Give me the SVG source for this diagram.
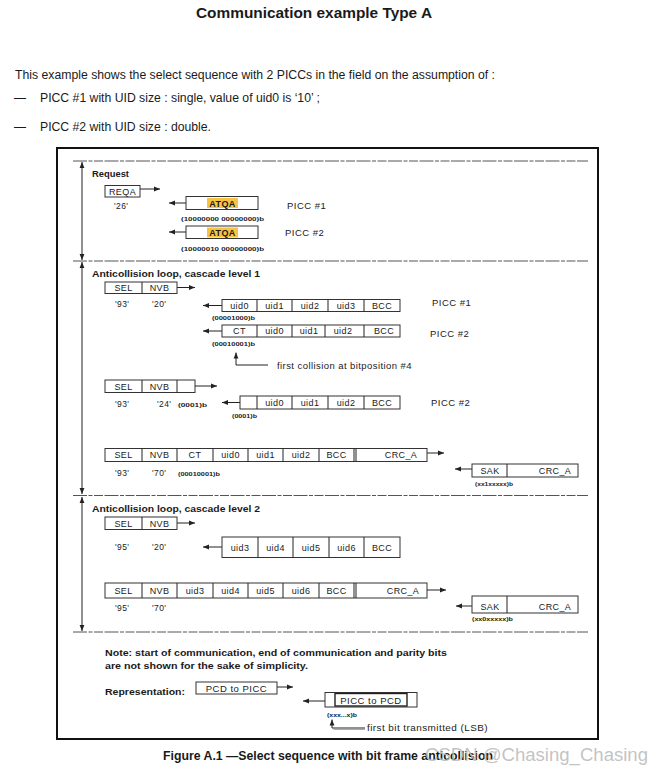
<svg xmlns="http://www.w3.org/2000/svg" width="663" height="773" viewBox="0 0 663 773">
<style>
  text { font-family: "Liberation Sans", Arial, sans-serif; fill: #1a1a1a; }
  .h { font-weight: bold; }
  .c { font-size: 9px; text-anchor: middle; letter-spacing: 0.4px; }
  .v { font-size: 8.5px; letter-spacing: 0.4px; }
  .s { font-size: 6px; font-weight: bold; }
  .p { font-size: 9.5px; letter-spacing: 0.5px; }
  .sec { font-size: 9.5px; font-weight: bold; }
  .box { fill: none; stroke: #333; stroke-width: 1; }
  .ln { fill: none; stroke: #222; stroke-width: 1; }
  .arr { fill: none; stroke: #222; stroke-width: 1; marker-end: url(#ah); }
  .dbl { fill: none; stroke: #222; stroke-width: 1; marker-start: url(#ah); marker-end: url(#ah); }
  .dash { fill: none; stroke: #555; stroke-width: 1; stroke-dasharray: 14 1.5 4 1.5 9 1.5; }
  .hl { fill: #f6c445; }
</style>
<defs>
  <marker id="ah" viewBox="0 0 6 6" refX="6" refY="3" markerWidth="6" markerHeight="6" orient="auto-start-reverse" markerUnits="userSpaceOnUse">
    <path d="M0,0.6 L6,3 L0,5.4 z" fill="#222"/>
  </marker>
</defs>

<!-- page header -->
<g id="header">
  <text x="196" y="18" class="h" font-size="15.5" textLength="236" lengthAdjust="spacingAndGlyphs">Communication example Type A</text>
  <text x="15" y="79" font-size="12" textLength="480" lengthAdjust="spacingAndGlyphs">This example shows the select sequence with 2 PICCs in the field on the assumption of :</text>
  <text x="14" y="102" font-size="12">—</text>
  <text x="40" y="102" font-size="12" textLength="280" lengthAdjust="spacingAndGlyphs">PICC #1 with UID size : single, value of uid0 is ‘10’ ;</text>
  <text x="14" y="131" font-size="12">—</text>
  <text x="40" y="131" font-size="12" textLength="171" lengthAdjust="spacingAndGlyphs">PICC #2 with UID size : double.</text>
</g>

<!-- frame and section separators -->
<g id="frame">
  <rect x="57" y="148" width="541" height="591" fill="none" stroke="#111" stroke-width="2"/>
  <line class="dash" x1="73" y1="161" x2="588" y2="161"/>
  <line class="dash" x1="73" y1="261" x2="588" y2="261"/>
  <line class="dash" x1="73" y1="495.5" x2="588" y2="495.5"/>
  <line class="dash" x1="73" y1="632" x2="588" y2="632"/>
</g>

<!-- connectors -->
<g id="connectors">
  <line class="dbl" x1="82" y1="162" x2="82" y2="260"/>
  <line class="dbl" x1="82" y1="262" x2="82" y2="494"/>
  <line class="dbl" x1="82" y1="497" x2="82" y2="631"/>
  <!-- request -->
  <line class="arr" x1="140" y1="189" x2="160" y2="189"/>
  <line class="arr" x1="186" y1="203" x2="169" y2="203"/>
  <line class="arr" x1="186" y1="232" x2="169" y2="232"/>
  <!-- cascade 1 -->
  <line class="arr" x1="177" y1="287.5" x2="195" y2="287.5"/>
  <line class="arr" x1="222" y1="305.5" x2="203" y2="305.5"/>
  <line class="arr" x1="222" y1="331" x2="203" y2="331"/>
  <path class="arr" d="M268,365 L236,365 L236,352.5"/>
  <line class="arr" x1="195" y1="386" x2="217" y2="386"/>
  <line class="arr" x1="240" y1="402.5" x2="222" y2="402.5"/>
  <line class="arr" x1="427" y1="453" x2="444" y2="453"/>
  <line class="arr" x1="472" y1="469" x2="455" y2="469"/>
  <!-- cascade 2 -->
  <line class="arr" x1="177" y1="523" x2="195" y2="523"/>
  <line class="arr" x1="222" y1="547" x2="203" y2="547"/>
  <line class="arr" x1="427" y1="590" x2="446" y2="590"/>
  <line class="arr" x1="472" y1="606" x2="456" y2="606"/>
  <!-- legend -->
  <line class="arr" x1="277" y1="687" x2="293" y2="687"/>
  <line class="arr" x1="325" y1="701" x2="303" y2="701"/>
  <path d="M365,729.5 L333.5,729.5" fill="none" stroke="#aaa" stroke-width="1"/>
  <path class="arr" d="M365,728 L332,728 L332,719.5"/>
</g>

<!-- Request section -->
<g id="sec-request">
  <text x="92" y="177" class="sec" textLength="37" lengthAdjust="spacingAndGlyphs">Request</text>
</g>
<g id="reqa">
  <rect class="box" x="105" y="185.5" width="35" height="11.5"/>
  <text class="c" x="122.5" y="194.5">REQA</text>
  <text class="v" x="114" y="209">'26'</text>
</g>
<g id="atqa1">
  <rect class="box" x="186" y="196.5" width="72" height="13"/>
  <rect class="hl" x="207" y="198" width="31" height="10"/>
  <text class="c h" x="222.5" y="206.5">ATQA</text>
  <text class="s" x="181" y="221" textLength="83" lengthAdjust="spacingAndGlyphs">(10000000 00000000)b</text>
  <text class="p" x="287" y="209">PICC #1</text>
</g>
<g id="atqa2">
  <rect class="box" x="186" y="226" width="72" height="12.5"/>
  <rect class="hl" x="207" y="227.5" width="31" height="10"/>
  <text class="c h" x="222.5" y="235.5">ATQA</text>
  <text class="s" x="181" y="251" textLength="83" lengthAdjust="spacingAndGlyphs">(10000010 00000000)b</text>
  <text class="p" x="285" y="236">PICC #2</text>
</g>

<!-- Cascade level 1 -->
<g id="sec-cl1">
  <text x="92" y="277" class="sec" textLength="168" lengthAdjust="spacingAndGlyphs">Anticollision loop, cascade level 1</text>
</g>
<g id="cl1-selnvb">
  <rect class="box" x="105" y="282" width="72" height="11.5"/>
  <line class="ln" x1="142" y1="282" x2="142" y2="293.5"/>
  <text class="c" x="123.5" y="291">SEL</text>
  <text class="c" x="159.5" y="291">NVB</text>
  <text class="v" x="115" y="307">'93'</text>
  <text class="v" x="152" y="307">'20'</text>
</g>
<g id="cl1-uid-picc1">
  <rect class="box" x="222" y="299.5" width="178" height="12"/>
  <line class="ln" x1="257" y1="299.5" x2="257" y2="311.5"/>
  <line class="ln" x1="292" y1="299.5" x2="292" y2="311.5"/>
  <line class="ln" x1="328" y1="299.5" x2="328" y2="311.5"/>
  <line class="ln" x1="364" y1="299.5" x2="364" y2="311.5"/>
  <text class="c" x="239.5" y="308.5">uid0</text>
  <text class="c" x="274.5" y="308.5">uid1</text>
  <text class="c" x="310" y="308.5">uid2</text>
  <text class="c" x="346" y="308.5">uid3</text>
  <text class="c" x="382" y="308.5">BCC</text>
  <text class="s" x="212" y="320" textLength="43" lengthAdjust="spacingAndGlyphs">(00001000)b</text>
  <text class="p" x="432" y="306">PICC #1</text>
</g>
<g id="cl1-ct-picc2">
  <rect class="box" x="222" y="325" width="178" height="12"/>
  <line class="ln" x1="257" y1="325" x2="257" y2="337"/>
  <line class="ln" x1="292" y1="325" x2="292" y2="337"/>
  <line class="ln" x1="325" y1="325" x2="325" y2="337"/>
  <line class="ln" x1="364" y1="325" x2="364" y2="337"/>
  <text class="c" x="239.5" y="334">CT</text>
  <text class="c" x="274.5" y="334">uid0</text>
  <text class="c" x="309" y="334">uid1</text>
  <text class="c" x="343" y="334">uid2</text>
  <text class="c" x="384" y="334">BCC</text>
  <text class="s" x="212" y="346" textLength="43" lengthAdjust="spacingAndGlyphs">(00010001)b</text>
  <text class="p" x="430" y="337">PICC #2</text>
</g>
<g id="cl1-collision-note">
  <text x="277" y="369" font-size="9" letter-spacing="0.4" textLength="135" lengthAdjust="spacingAndGlyphs">first collision at bitposition #4</text>
</g>
<g id="cl1-selnvb24">
  <rect class="box" x="105" y="380" width="90" height="12.5"/>
  <line class="ln" x1="142" y1="380" x2="142" y2="392.5"/>
  <line class="ln" x1="177" y1="380" x2="177" y2="392.5"/>
  <text class="c" x="123.5" y="389.5">SEL</text>
  <text class="c" x="159.5" y="389.5">NVB</text>
  <text class="v" x="115" y="407">'93'</text>
  <text class="v" x="157" y="407">'24'</text>
  <text class="s" x="178" y="407" textLength="29" lengthAdjust="spacingAndGlyphs">(0001)b</text>
</g>
<g id="cl1-uid-picc2">
  <rect class="box" x="240" y="396" width="160" height="13"/>
  <line class="ln" x1="257" y1="396" x2="257" y2="409"/>
  <line class="ln" x1="292" y1="396" x2="292" y2="409"/>
  <line class="ln" x1="328" y1="396" x2="328" y2="409"/>
  <line class="ln" x1="364" y1="396" x2="364" y2="409"/>
  <text class="c" x="274.5" y="405.5">uid0</text>
  <text class="c" x="310" y="405.5">uid1</text>
  <text class="c" x="346" y="405.5">uid2</text>
  <text class="c" x="382" y="405.5">BCC</text>
  <text class="s" x="232" y="418" textLength="25" lengthAdjust="spacingAndGlyphs">(0001)b</text>
  <text class="p" x="431" y="406">PICC #2</text>
</g>
<g id="cl1-select">
  <rect class="box" x="105" y="448.5" width="322" height="13"/>
  <line class="ln" x1="142" y1="448.5" x2="142" y2="461.5"/>
  <line class="ln" x1="177" y1="448.5" x2="177" y2="461.5"/>
  <line class="ln" x1="213" y1="448.5" x2="213" y2="461.5"/>
  <line class="ln" x1="248" y1="448.5" x2="248" y2="461.5"/>
  <line class="ln" x1="283" y1="448.5" x2="283" y2="461.5"/>
  <line class="ln" x1="319" y1="448.5" x2="319" y2="461.5"/>
  <line class="ln" x1="354" y1="448.5" x2="354" y2="461.5"/>
  <line class="ln" x1="356" y1="448.5" x2="356" y2="461.5"/>
  <text class="c" x="123.5" y="458">SEL</text>
  <text class="c" x="159.5" y="458">NVB</text>
  <text class="c" x="195" y="458">CT</text>
  <text class="c" x="230.5" y="458">uid0</text>
  <text class="c" x="265.5" y="458">uid1</text>
  <text class="c" x="301" y="458">uid2</text>
  <text class="c" x="336.5" y="458">BCC</text>
  <text class="c" x="401" y="458">CRC_A</text>
  <text class="v" x="115" y="476">'93'</text>
  <text class="v" x="152" y="476">'70'</text>
  <text class="s" x="178" y="476" textLength="42" lengthAdjust="spacingAndGlyphs">(00010001)b</text>
</g>
<g id="cl1-sak">
  <rect class="box" x="472" y="464" width="106" height="13"/>
  <line class="ln" x1="507" y1="464" x2="507" y2="477"/>
  <text class="c" x="490" y="474">SAK</text>
  <text class="c" x="555" y="474">CRC_A</text>
  <text class="s" x="475" y="486" textLength="38" lengthAdjust="spacingAndGlyphs">(xx1xxxxx)b</text>
</g>

<!-- Cascade level 2 -->
<g id="sec-cl2">
  <text x="92" y="512" class="sec" textLength="168" lengthAdjust="spacingAndGlyphs">Anticollision loop, cascade level 2</text>
</g>
<g id="cl2-selnvb">
  <rect class="box" x="105" y="517" width="72" height="12.5"/>
  <line class="ln" x1="142" y1="517" x2="142" y2="529.5"/>
  <text class="c" x="123.5" y="526.5">SEL</text>
  <text class="c" x="159.5" y="526.5">NVB</text>
  <text class="v" x="115" y="550">'95'</text>
  <text class="v" x="152" y="550">'20'</text>
</g>
<g id="cl2-uid">
  <rect class="box" x="222" y="537" width="178" height="20.5"/>
  <line class="ln" x1="258" y1="537" x2="258" y2="557.5"/>
  <line class="ln" x1="293" y1="537" x2="293" y2="557.5"/>
  <line class="ln" x1="329" y1="537" x2="329" y2="557.5"/>
  <line class="ln" x1="364" y1="537" x2="364" y2="557.5"/>
  <text class="c" x="240" y="550.5">uid3</text>
  <text class="c" x="275.5" y="550.5">uid4</text>
  <text class="c" x="311" y="550.5">uid5</text>
  <text class="c" x="346.5" y="550.5">uid6</text>
  <text class="c" x="382" y="550.5">BCC</text>
</g>
<g id="cl2-select">
  <rect class="box" x="105" y="583" width="322" height="15"/>
  <line class="ln" x1="142" y1="583" x2="142" y2="598"/>
  <line class="ln" x1="177" y1="583" x2="177" y2="598"/>
  <line class="ln" x1="213" y1="583" x2="213" y2="598"/>
  <line class="ln" x1="248" y1="583" x2="248" y2="598"/>
  <line class="ln" x1="283" y1="583" x2="283" y2="598"/>
  <line class="ln" x1="319" y1="583" x2="319" y2="598"/>
  <line class="ln" x1="354" y1="583" x2="354" y2="598"/>
  <line class="ln" x1="356" y1="583" x2="356" y2="598"/>
  <text class="c" x="123.5" y="594">SEL</text>
  <text class="c" x="159.5" y="594">NVB</text>
  <text class="c" x="195" y="594">uid3</text>
  <text class="c" x="230.5" y="594">uid4</text>
  <text class="c" x="265.5" y="594">uid5</text>
  <text class="c" x="301" y="594">uid6</text>
  <text class="c" x="336.5" y="594">BCC</text>
  <text class="c" x="403" y="594">CRC_A</text>
  <text class="v" x="115" y="611">'95'</text>
  <text class="v" x="152" y="611">'70'</text>
</g>
<g id="cl2-sak">
  <rect class="box" x="472" y="596" width="106" height="17"/>
  <line class="ln" x1="507" y1="596" x2="507" y2="613"/>
  <text class="c" x="490" y="610">SAK</text>
  <text class="c" x="555" y="610">CRC_A</text>
  <text class="s" x="472" y="621" textLength="41" lengthAdjust="spacingAndGlyphs">(xx0xxxxx)b</text>
</g>

<!-- Note and legend -->
<g id="note">
  <text x="105" y="656" class="h" font-size="9.5" textLength="342" lengthAdjust="spacingAndGlyphs">Note: start of communication, end of communication and parity bits</text>
  <text x="105" y="669" class="h" font-size="9.5" textLength="203" lengthAdjust="spacingAndGlyphs">are not shown for the sake of simplicity.</text>
</g>
<g id="legend-label">
  <text x="105" y="695" class="h" font-size="9.5" textLength="80" lengthAdjust="spacingAndGlyphs">Representation:</text>
</g>
<g id="legend-pcd2picc">
  <rect class="box" x="196" y="682" width="81" height="12"/>
  <text x="236.5" y="691.5" font-size="9.5" text-anchor="middle" letter-spacing="0.5">PCD to PICC</text>
</g>
<g id="legend-picc2pcd">
  <rect class="box" x="325" y="692.5" width="92" height="14.5"/>
  <rect x="335" y="693.5" width="72" height="12.5" fill="none" stroke="#222" stroke-width="1.4"/>
  <text x="371" y="703.5" font-size="9.5" text-anchor="middle" letter-spacing="0.5">PICC to PCD</text>
  <text class="s" x="327" y="717" textLength="30" lengthAdjust="spacingAndGlyphs">(xxx...x)b</text>
  <text x="367" y="731" font-size="9" letter-spacing="0.4" textLength="121" lengthAdjust="spacingAndGlyphs">first bit transmitted (LSB)</text>
</g>

<!-- caption -->
<g id="caption">
  <text x="163" y="760" class="h" font-size="12" textLength="330" lengthAdjust="spacingAndGlyphs">Figure A.1 —Select sequence with bit frame anticollision</text>
  <text x="425" y="761" font-size="17.5" fill="#b8b8b8" style="fill:#b8b8b8" fill-opacity="0.85" textLength="223" lengthAdjust="spacingAndGlyphs">CSDN @Chasing_Chasing</text>
</g>
</svg>
